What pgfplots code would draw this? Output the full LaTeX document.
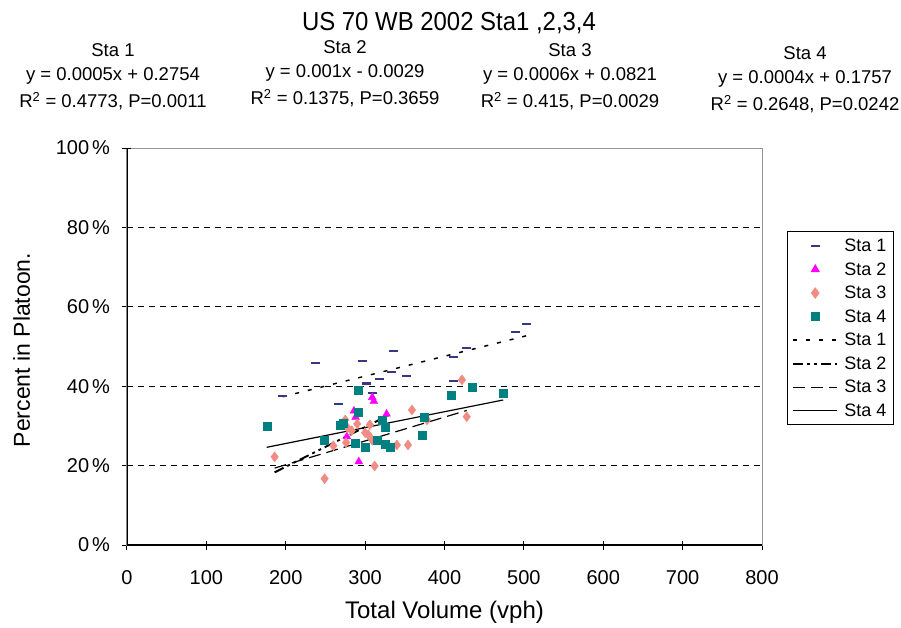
\documentclass[border=0pt]{standalone}
\usepackage{fontspec}
\setmainfont{Liberation Sans}
\newfontfamily\titlefont[FakeStretch=0.92]{Liberation Sans}
\usepackage{pgfplots}
\pgfplotsset{compat=1.18}
\definecolor{staA}{RGB}{55,55,130}
\definecolor{staB}{RGB}{255,0,255}
\definecolor{staC}{RGB}{240,140,130}
\definecolor{staD}{RGB}{0,128,128}
\definecolor{frameg}{RGB}{150,150,150}
\begin{document}
\begin{tikzpicture}
\path[use as bounding box] (-127pt,-82pt) rectangle (774pt,545pt);
% title and regression notes
\node[anchor=base,font=\titlefont\fontsize{26}{30}\selectfont] at (322pt,514pt) {US 70 WB 2002 Sta1 ,2,3,4};
\begin{scope}[every node/.style={anchor=base,font=\fontsize{18.5}{22}\selectfont}]
\node at (-14pt,488pt) {Sta 1};
\node at (-14pt,464pt) {y = 0.0005x + 0.2754};
\node at (-14pt,437pt) {R\textsuperscript{2} = 0.4773, P=0.0011};
\node at (218pt,491pt) {Sta 2};
\node at (218pt,467pt) {y = 0.001x - 0.0029};
\node at (218pt,440pt) {R\textsuperscript{2} = 0.1375, P=0.3659};
\node at (443pt,488pt) {Sta 3};
\node at (443pt,464pt) {y = 0.0006x + 0.0821};
\node at (443pt,437pt) {R\textsuperscript{2} = 0.415, P=0.0029};
\node at (678pt,485pt) {Sta 4};
\node at (678pt,461pt) {y = 0.0004x + 0.1757};
\node at (678pt,434pt) {R\textsuperscript{2} = 0.2648, P=0.0242};
\end{scope}
\begin{axis}[
  at={(0pt,0pt)}, anchor=south west, scale only axis,
  width=635pt, height=397pt,
  xmin=0, xmax=800, ymin=0, ymax=100,
  xtick={0,100,...,800}, ytick={0,20,...,80},
  extra y ticks={100}, extra y tick style={grid=none},
  yticklabel={\pgfmathprintnumber{\tick}\hspace{3pt}\%},
  /pgf/number format/assume math mode=true,
  ticklabel style={font=\fontsize{20}{24}\selectfont},
  xticklabel style={yshift=-17pt},
  yticklabel style={xshift=-9pt},
  xtick pos=left, ytick pos=left,
  tick align=center, major tick length=9pt,
  tick style={black, line width=1pt},
  axis line style={frameg, line width=1pt},
  ymajorgrids, grid style={black, dash pattern=on 6pt off 5pt, line width=1.3pt},
  xlabel={Total Volume (vph)},
  xlabel style={font=\fontsize{24}{28}\selectfont, at={(axis description cs:0.5,-0.169)}, anchor=center},
  ylabel={Percent in Platoon.},
  ylabel style={font=\fontsize{23}{27}\selectfont, at={(axis description cs:-0.166,0.491)}, anchor=center},
  legend style={at={(1.039,0.79)}, anchor=north west, draw=black, line width=1pt,
    font=\fontsize{18}{20}\selectfont, row sep=5.5pt, inner xsep=5pt, inner ysep=5pt},
  legend cell align=left,
  mleg/.style={legend image code/.code={\draw[mark repeat=2,mark phase=2,##1] plot coordinates {(0pt,0pt) (22pt,0pt) (44pt,0pt)};}},
  lleg/.style={legend image code/.code={\draw[##1] (0pt,0pt) -- (44pt,0pt);}},
]
\addplot[only marks, mark=-, mark size=4.5pt, color=staA, mark options={line width=2.5pt}, mleg] coordinates {
(196,37.5) (238,45.8) (266,35.5) (297,46.3) (302,40.7) (309,38.3) (318,41.8) (333,43.6)
(336,48.9) (352,42.6) (411,47.4) (411,41.3) (428,49.6) (489,53.6) (503,55.7)};
\addlegendentry{\hspace{4pt}Sta 1}
\addplot[only marks, mark=triangle*, mark size=4.5pt, color=staB, mleg] coordinates {
(277,27.3) (286,33.8) (288,32.2) (309,37.2) (311,36.2) (327,33.0) (292,21.0)};
\addlegendentry{\hspace{4pt}Sta 2}
\addplot[only marks, mark=diamond*, mark size=5pt, color=staC, mleg] coordinates {
(186,22.2) (249,16.7) (260,25.0) (275,31.5) (278,29.5) (276,25.8) (300,28.3) (304,27.8)
(306,30.3) (309,26.4) (312,19.9) (340,25.2) (354,25.2) (359,34.0) (378,31.5) (422,41.6)
(428,32.3) (290,30.5) (283,28.8)};
\addlegendentry{\hspace{4pt}Sta 3}
\addplot[only marks, mark=square*, mark size=4pt, color=staD, mleg] coordinates {
(176,30.0) (249,26.4) (268,30.3) (272,30.8) (287,25.7) (291,39.0) (291,33.5) (300,24.6)
(315,26.4) (321,31.5) (325,29.7) (325,25.5) (331,24.7) (372,27.7) (375,32.2) (409,37.8)
(435,39.8) (474,38.3)};
\addlegendentry{\hspace{4pt}Sta 4}
\addplot[black, line width=1.5pt, dash pattern=on 4pt off 9pt, lleg] coordinates {(196,37.34) (503,52.69)};
\addlegendentry{\hspace{4pt}Sta 1}
\addplot[black, line width=2pt, dash pattern=on 10pt off 4pt on 3pt off 4pt on 3pt off 4pt, lleg] coordinates {(186,18.31) (329,32.61)};
\addlegendentry{\hspace{4pt}Sta 2}
\addplot[black, line width=1.2pt, dash pattern=on 12pt off 6pt, lleg] coordinates {(186,19.37) (428,33.89)};
\addlegendentry{\hspace{4pt}Sta 3}
\addplot[black, line width=1.2pt, lleg] coordinates {(176,24.61) (474,36.53)};
\addlegendentry{\hspace{4pt}Sta 4}
\draw[black, line width=1.2pt] (rel axis cs:0,1) -- (rel axis cs:0,0) -- (rel axis cs:1,0);
\end{axis}
\end{tikzpicture}
\end{document}
